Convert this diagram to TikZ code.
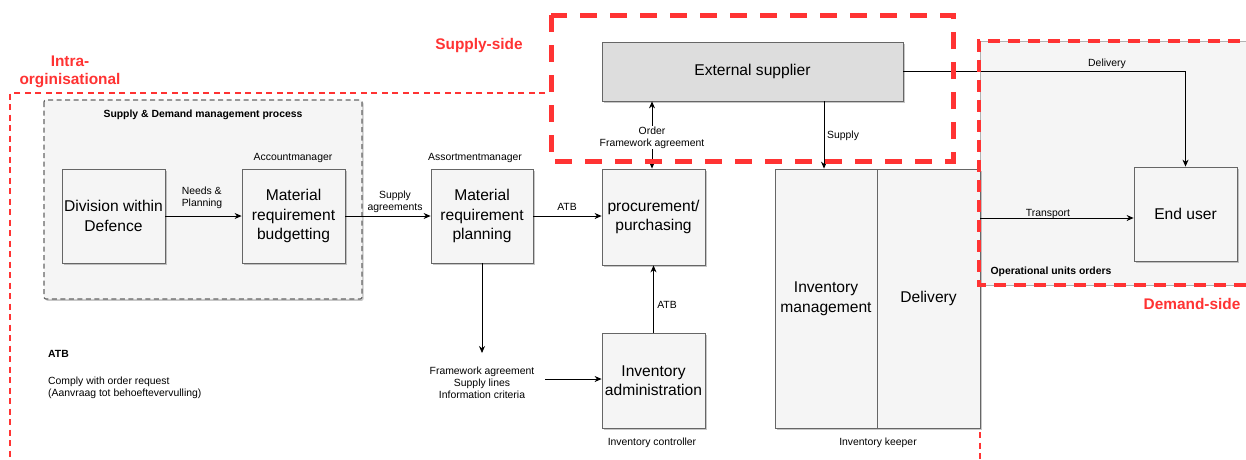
\documentclass[tikz,border=0pt]{standalone}
\usepackage{fontspec}
\setmainfont{Liberation Sans}
\usetikzlibrary{arrows.meta,shadows}

\definecolor{boxfill}{HTML}{F5F5F5}
\definecolor{boxline}{HTML}{666666}
\definecolor{supfill}{HTML}{DDDDDD}
\definecolor{zonered}{HTML}{FF3333}

\newcommand\bigtxt{\fontsize{15.6}{19.5}\selectfont}
\newcommand\smalltxt{\fontsize{10.4}{12}\selectfont}
\newcommand\zonetxt{\fontsize{15.4}{17.5}\selectfont\bfseries}

\tikzset{
  shade box/.style={drop shadow={shadow xshift=1.6pt, shadow yshift=-1.8pt, fill=black, opacity=0.22}},
  stagebox/.style={draw=boxline, fill=boxfill, line width=0.8pt, inner sep=0pt,
    align=center, font=\bigtxt, shade box},
  lbl/.style={font=\smalltxt, align=center, inner sep=1pt, yshift=-1.5pt},
  boldlbl/.style={font=\smalltxt\bfseries, align=left, inner sep=0pt, yshift=-1pt},
  flow/.style={draw=black, line width=0.8pt, -{Stealth[length=7pt,width=6pt]}},
  intrazone/.style={draw=zonered, line width=1.6pt, dash pattern=on 6pt off 4.5pt},
  supplyzone/.style={draw=zonered, line width=5pt, dash pattern=on 17pt off 13pt},
  demandzone/.style={draw=zonered, line width=3.5pt, dash pattern=on 12pt off 8pt},
  zonelbl/.style={text=zonered, font=\zonetxt, align=center, inner sep=0pt, yshift=-1pt},
}

\begin{document}
\begin{tikzpicture}[x=1pt, y=-1pt]
  \useasboundingbox (0,0) rectangle (1246,459);
  \fill[white] (0,0) rectangle (1246,459);
  \clip (0,0) rectangle (1246,459);

  % intra-organisational zone (open outline)
  \draw[intrazone] (545,93) -- (10,93) -- (10,470);
  \draw[intrazone] (980,285) -- (980,470);
  \node[zonelbl] (intralbl) at (70,71) {Intra-\\orginisational};

  % demand-side container
  \filldraw[fill=boxfill, draw=gray!60, line width=0.8pt] (1260,41) -- (980,41) -- (980,285) -- (1260,285);

  % supply & demand management process container
  \filldraw[fill=boxfill, draw=boxline, line width=1.2pt, dash pattern=on 5pt off 3.5pt,
    rounded corners=2pt, shade box] (44,100) rectangle (362,299);
  \node[boldlbl] (sdtitle) at (203,114) {Supply \& Demand management process};

  % stages
  \node[stagebox, minimum width=103pt, minimum height=94pt] (div) at (113.5,216) {Division within\\Defence};
  \node[stagebox, minimum width=103pt, minimum height=94pt] (mrb) at (293.5,216) {Material\\requirement\\budgetting};
  \node[stagebox, minimum width=102pt, minimum height=94pt] (mrp) at (482,216) {Material\\requirement\\planning};
  \node[stagebox, minimum width=103pt, minimum height=96pt] (proc) at (653.5,217) {procurement/\\purchasing};
  \node[stagebox, minimum width=103pt, minimum height=95pt] (invadm) at (653.5,380.5) {Inventory\\administration};
  \node[stagebox, fill=supfill, minimum width=301pt, minimum height=59pt] (ext) at (752.5,71.5) {External supplier};
  \node[stagebox, minimum width=102pt, minimum height=259pt] (invmgmt) at (826,298.5) {Inventory\\management};
  \node[stagebox, minimum width=103pt, minimum height=259pt] (deliv) at (928.5,298.5) {Delivery};
  \node[stagebox, minimum width=103pt, minimum height=94pt] (enduser) at (1185.5,214) {End user};

  % role captions
  \node[lbl] (accmgr) at (293,156) {Accountmanager};
  \node[lbl] (assmgr) at (475,156) {Assortmentmanager};
  \node[lbl] (invctl) at (652,441) {Inventory controller};
  \node[lbl] (invkeep) at (878,441) {Inventory keeper};
  \node[boldlbl] (opunits) at (1051,271) {Operational units orders};

  % flows
  \draw[flow] (div) -- (mrb);
  \node[lbl, align=left] (needs) at (202,196) {Needs \&\\Planning};
  \draw[flow] (mrb) -- (mrp);
  \node[lbl] (suppagr) at (395,200) {Supply\\agreements};
  \draw[flow] (mrp.east) -- (mrp.east -| proc.west);
  \node[lbl] (atbone) at (567,205) {ATB};

  \draw[flow, {Stealth[length=7pt,width=6pt]}-{Stealth[length=7pt,width=6pt]}] (ext.south -| 652,0) -- (proc.north -| 652,0);
  \node[lbl, fill=white] (order) at (652,136) {Order\\Framework agreement};

  \draw[flow] (ext.south -| 824,0) -- (invmgmt.north -| 824,0);
  \node[lbl, anchor=west] (supply) at (826,134) {Supply};

  \draw[flow] (ext.east) -| (enduser.north);
  \node[lbl] (delivlbl) at (1107,62) {Delivery};

  \coordinate (tstart) at (980,218);
  \draw[flow] (tstart) -- (tstart -| enduser.west);
  \node[lbl] (transport) at (1048,212) {Transport};

  \coordinate (fwend) at (482,353);
  \draw[flow] (mrp.south) -- (fwend);
  \node[lbl, font=\fontsize{10.4}{11.8}\selectfont] (fw) at (482,381) {Framework agreement\\Supply lines\\Information criteria};
  \coordinate (fwstart) at (545,379);
  \draw[flow] (fwstart) -- (fwstart -| invadm.west);

  \draw[flow] (invadm.north) -- (proc.south);
  \node[lbl] (atbtwo) at (667,303) {ATB};

  % legend
  \node[boldlbl, anchor=west] (atbkey) at (48,353) {ATB};
  \node[lbl, align=left, anchor=north west, inner sep=0pt] (atbtext) at (48,375)
    {Comply with order request\\(Aanvraag tot behoeftevervulling)};

  % zone outlines on top
  \draw[supplyzone] (551,15) rectangle (953,161);
  \node[zonelbl] (supplylbl) at (479,45) {Supply-side};
  \draw[demandzone] (1260,41) -- (979,41) -- (979,285) -- (1260,285);
  \node[zonelbl] (demandlbl) at (1192,303) {Demand-side};
\end{tikzpicture}
\end{document}
